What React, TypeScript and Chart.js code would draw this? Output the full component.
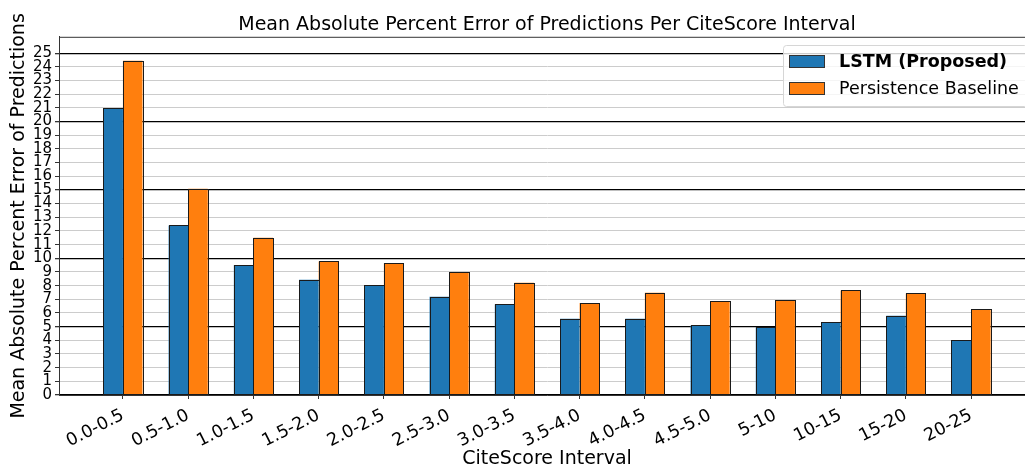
import React, { useEffect, useRef } from "react";
import { Chart, registerables } from "chart.js";

Chart.register(...registerables);

const categories = [
  "0.0-0.5", "0.5-1.0", "1.0-1.5", "1.5-2.0", "2.0-2.5", "2.5-3.0", "3.0-3.5",
  "3.5-4.0", "4.0-4.5", "4.5-5.0", "5-10", "10-15", "15-20", "20-25",
];
const lstmValues = [21.0, 12.4, 9.5, 8.43, 8.02, 7.19, 6.63, 5.58, 5.58, 5.09, 4.97, 5.34, 5.8, 4.02];
const persistenceValues = [24.44, 15.08, 11.5, 9.77, 9.65, 8.99, 8.21, 6.73, 7.48, 6.87, 6.92, 7.65, 7.43, 6.26];
const yTickValues = [0, 1, 2, 3, 4, 5, 6, 7, 8, 9, 10, 11, 12, 13, 14, 15, 16, 17, 18, 19, 20, 21, 22, 23, 24, 25];
const seriesNames = ["LSTM (Proposed)", "Persistence Baseline"];
const seriesColors = ["#1f77b4", "#ff7f0e"];
const chartTitle = "Mean Absolute Percent Error of Predictions Per CiteScore Interval";
const xTitle = "CiteScore Interval";
const yTitle = "Mean Absolute Percent Error of Predictions";

const FONT = "'DejaVu Sans', sans-serif";
const EDGE = "#1a1a1a";

const barEdgePlugin = {
  id: "barEdges",
  afterDatasetsDraw(chart: any) {
    const { ctx } = chart;
    ctx.save();
    ctx.strokeStyle = EDGE;
    ctx.lineWidth = 1;
    chart.data.datasets.forEach((_: any, di: number) => {
      const meta = chart.getDatasetMeta(di);
      meta.data.forEach((bar: any) => {
        const l = Math.round(bar.x - bar.width / 2);
        const r = Math.round(bar.x + bar.width / 2);
        const t = Math.round(bar.y);
        const b = Math.round(bar.base);
        ctx.strokeRect(l + 0.5, t + 0.5, r - l, b - t);
      });
    });
    ctx.restore();
  },
};

const framePlugin = {
  id: "frameAndLegend",
  afterDraw(chart: any) {
    const { ctx, chartArea } = chart;
    ctx.save();
    ctx.strokeStyle = "#333";
    ctx.lineWidth = 1;
    ctx.beginPath();
    ctx.moveTo(chartArea.left, chartArea.top + 0.5);
    ctx.lineTo(chartArea.right, chartArea.top + 0.5);
    ctx.moveTo(chartArea.right - 0.5, chartArea.top);
    ctx.lineTo(chartArea.right - 0.5, chartArea.bottom);
    ctx.stroke();

    const fs = 17.5;
    const fonts = [`bold ${fs}px ${FONT}`, `${fs}px ${FONT}`];
    let textW = 0;
    seriesNames.forEach((n, i) => {
      ctx.font = fonts[i];
      textW = Math.max(textW, ctx.measureText(n).width);
    });
    const boxW = 6 + 36 + 14 + textW + 8;
    const boxH = 61;
    const right = chartArea.right - 8;
    const left = Math.round(right - boxW);
    const top = Math.round(chartArea.top + 8);
    ctx.beginPath();
    ctx.roundRect(left + 0.5, top + 0.5, boxW, boxH, 3);
    ctx.fillStyle = "rgba(255,255,255,0.8)";
    ctx.fill();
    ctx.strokeStyle = "#d6d6d6";
    ctx.lineWidth = 1;
    ctx.stroke();
    const rows = [top + 16, top + 43];
    seriesNames.forEach((n, i) => {
      const cy = rows[i];
      ctx.fillStyle = seriesColors[i];
      ctx.fillRect(left + 6, cy - 6, 36, 13);
      ctx.strokeStyle = "#333";
      ctx.strokeRect(left + 6.5, cy - 5.5, 35, 12);
      ctx.fillStyle = "#000";
      ctx.font = fonts[i];
      ctx.textBaseline = "middle";
      ctx.textAlign = "left";
      ctx.fillText(n, left + 56, cy + 1);
    });
    ctx.restore();
  },
};

export default function App() {
  const ref = useRef<HTMLCanvasElement | null>(null);
  useEffect(() => {
    if (!ref.current) return;
    Chart.defaults.font.family = FONT;
    Chart.defaults.color = "#000";
    const chart = new Chart(ref.current, {
      type: "bar",
      data: {
        datasets: [
          {
            label: seriesNames[0],
            data: categories.map((_, i) => ({ x: i, y: lstmValues[i] })),
            backgroundColor: seriesColors[0],
            borderWidth: 0,
            inflateAmount: 0,
          },
          {
            label: seriesNames[1],
            data: categories.map((_, i) => ({ x: i, y: persistenceValues[i] })),
            backgroundColor: seriesColors[1],
            borderWidth: 0,
            inflateAmount: 0,
          },
        ],
      },
      options: {
        responsive: false,
        maintainAspectRatio: false,
        devicePixelRatio: 1,
        animation: false,
        datasets: { bar: { categoryPercentage: 0.6, barPercentage: 1.0 } },
        layout: { padding: { left: 0, right: 5, top: 0, bottom: 0 } },
        plugins: {
          legend: { display: false },
          tooltip: { enabled: false },
          title: {
            display: true,
            text: chartTitle,
            fullSize: false,
            color: "#000",
            font: { size: 19, weight: "normal", family: FONT },
            padding: { top: 13.5, bottom: 0.5 },
          },
        },
        scales: {
          x: {
            type: "linear",
            offset: false,
            min: -0.98,
            max: 13.98,
            afterBuildTicks: (scale: any) => {
              scale.ticks = categories.map((_, i) => ({ value: i }));
            },
            afterFit: (scale: any) => {
              scale.height = 75;
            },
            ticks: {
              autoSkip: false,
              maxRotation: 27,
              minRotation: 27,
              padding: 6,
              color: "#000",
              font: { size: 17.5, family: FONT },
              callback: (_v: any, i: number) => categories[i],
            },
            grid: {
              offset: false,
              drawOnChartArea: false,
              drawTicks: true,
              tickLength: 4,
              tickColor: "#333",
            },
            border: { display: true, color: "#333", width: 1 },
            title: {
              display: true,
              text: xTitle,
              color: "#000",
              font: { size: 19, family: FONT },
              padding: { top: 0, bottom: 0 },
            },
          },
          y: {
            type: "linear",
            min: 0,
            max: 26.2,
            afterBuildTicks: (scale: any) => {
              scale.ticks = yTickValues.map((v) => ({ value: v }));
            },
            afterFit: (scale: any) => {
              scale.width = 59;
            },
            ticks: {
              autoSkip: false,
              padding: 3,
              color: "#000",
              font: { size: 15, family: FONT },
              callback: (v: any) => String(v),
            },
            grid: {
              color: (c: any) => (c.tick && c.tick.value % 5 === 0 ? "#000" : "#cccccc"),
              lineWidth: (c: any) => (c.tick && c.tick.value % 5 === 0 ? 1.3 : 1),
              tickLength: 4,
              tickColor: "#333",
            },
            border: { display: true, color: "#333", width: 1 },
            title: {
              display: true,
              text: yTitle,
              color: "#000",
              font: { size: 19, family: FONT },
              padding: { top: 7.5, bottom: 0 },
            },
          },
        },
      },
      plugins: [barEdgePlugin, framePlugin],
    } as any);
    return () => chart.destroy();
  }, []);
  return (
    <div style={{ position: "absolute", left: 0, top: 0, width: 1025, height: 470, overflow: "hidden", background: "#fff" }}>
      <canvas ref={ref} width={1040} height={470} style={{ display: "block", width: 1040, height: 470 }} />
    </div>
  );
}
